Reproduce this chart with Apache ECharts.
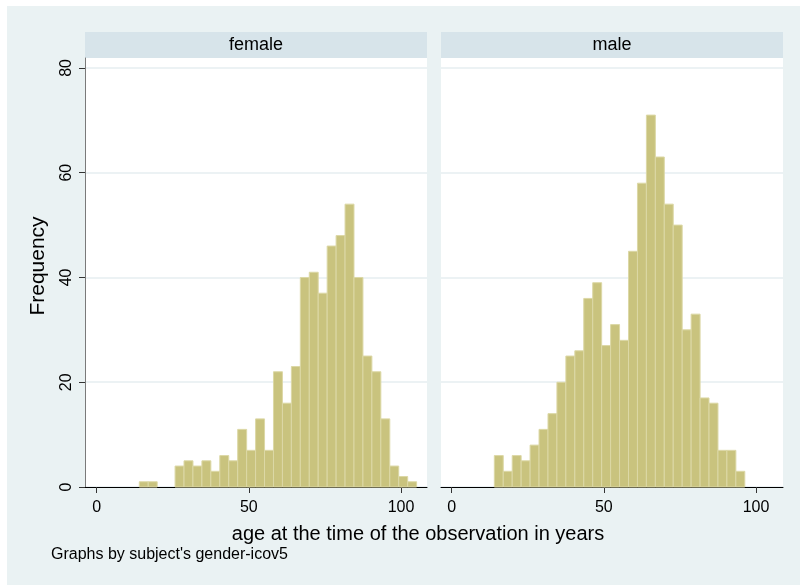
<!DOCTYPE html>
<html><head><meta charset="utf-8">
<script src="https://cdn.jsdelivr.net/npm/echarts@6/dist/echarts.min.js"></script>
<style>html,body{margin:0;padding:0;background:#fff}#c{width:800px;height:585px}</style>
</head><body><div id="c"></div>
<script>
const panelTitles = ['female', 'male'];
const binStart = 14;
const binWidth = 2.94;
const femaleCounts = [1,1,0,0,4,5,4,5,3,6,5,11,7,13,7,22,16,23,40,41,37,46,48,54,40,25,22,13,4,2,1];
const maleCounts = [6,3,6,5,8,11,14,20,25,26,36,39,27,31,28,45,58,71,63,54,50,30,33,17,16,7,7,3];
const xTicks = [0, 50, 100];
const yTicks = [0, 20, 40, 60, 80];
const xTitle = 'age at the time of the observation in years';
const yTitle = 'Frequency';
const note = "Graphs by subject's gender-icov5";

const FONT = '"Liberation Sans", Arial, sans-serif';
const BAR_FILL = '#C9C37E';
const BAR_EDGE = '#DCD8A6';

function toBins(counts) {
  const out = [];
  counts.forEach((c, i) => {
    if (c > 0) out.push([binStart + i * binWidth, binStart + (i + 1) * binWidth, c]);
  });
  return out;
}

function renderBar(params, api) {
  const p0 = api.coord([api.value(0), api.value(2)]);
  const p1 = api.coord([api.value(1), 0]);
  return {
    type: 'rect',
    shape: { x: p0[0], y: p0[1], width: p1[0] - p0[0], height: p1[1] - p0[1] },
    style: { fill: BAR_FILL, stroke: BAR_EDGE, lineWidth: 1 }
  };
}

const grids = [
  { left: 85, top: 58, width: 342, height: 429 },
  { left: 441, top: 58, width: 342, height: 429 }
];
const xRanges = [[-3.84, 108.55], [-3.52, 108.87]];

const chart = echarts.init(document.getElementById('c'), null, { renderer: 'canvas' });

const option = {
  backgroundColor: '#EAF2F3',
  animation: false,
  grid: grids.map(g => Object.assign({ show: true, backgroundColor: '#ffffff', borderWidth: 0 }, g)),
  xAxis: [0, 1].map(i => ({
    type: 'value', gridIndex: i,
    min: xRanges[i][0], max: xRanges[i][1],
    axisLine: { show: true, onZero: false, lineStyle: { color: '#000', width: 1 } },
    axisTick: { show: true, length: 6, customValues: xTicks, lineStyle: { color: '#333' } },
    axisLabel: { show: true, customValues: xTicks, fontSize: 16, color: '#000', fontFamily: FONT, margin: 13 },
    splitLine: { show: false }
  })),
  yAxis: [0, 1].map(i => ({
    type: 'value', gridIndex: i,
    min: 0, max: 81.9,
    axisLine: { show: i === 0, onZero: false, lineStyle: { color: '#7A7A7A', width: 1 } },
    axisTick: { show: i === 0, length: 6, customValues: yTicks, lineStyle: { color: '#333' } },
    axisLabel: { show: i === 0, customValues: yTicks, rotate: 90, fontSize: 16, color: '#000', fontFamily: FONT, margin: 10 },
    splitLine: { show: true, lineStyle: { color: '#E6EEF1', width: 1.5 } }
  })),
  series: [femaleCounts, maleCounts].map((counts, i) => ({
    type: 'custom', xAxisIndex: i, yAxisIndex: i,
    renderItem: renderBar,
    encode: { x: [0, 1], y: 2 },
    data: toBins(counts),
    z: 5
  })),
  graphic: [
    { type: 'rect', shape: { x: 0, y: 0, width: 7, height: 585 }, style: { fill: '#ffffff' } },
    { type: 'rect', shape: { x: 0, y: 0, width: 800, height: 6 }, style: { fill: '#ffffff' } },
    ...grids.map((g, i) => ({
      type: 'rect', shape: { x: g.left, y: 32, width: g.width, height: 26 }, style: { fill: '#D7E4EA' }
    })),
    ...grids.map((g, i) => ({
      type: 'text', x: g.left + g.width / 2, y: 45,
      style: { text: panelTitles[i], fontSize: 18, fontFamily: FONT, fill: '#000', textAlign: 'center', textVerticalAlign: 'middle' }
    })),
    { type: 'text', x: 418, y: 534,
      style: { text: xTitle, fontSize: 20, fontFamily: FONT, fill: '#000', textAlign: 'center', textVerticalAlign: 'middle' } },
    { type: 'text', x: 38, y: 266, rotation: Math.PI / 2,
      style: { text: yTitle, fontSize: 21, fontFamily: FONT, fill: '#000', textAlign: 'center', textVerticalAlign: 'middle' } },
    { type: 'text', x: 51, y: 555,
      style: { text: note, fontSize: 16, fontFamily: FONT, fill: '#000', textAlign: 'left', textVerticalAlign: 'middle' } }
  ]
};
chart.setOption(option);
</script>
</body></html>
